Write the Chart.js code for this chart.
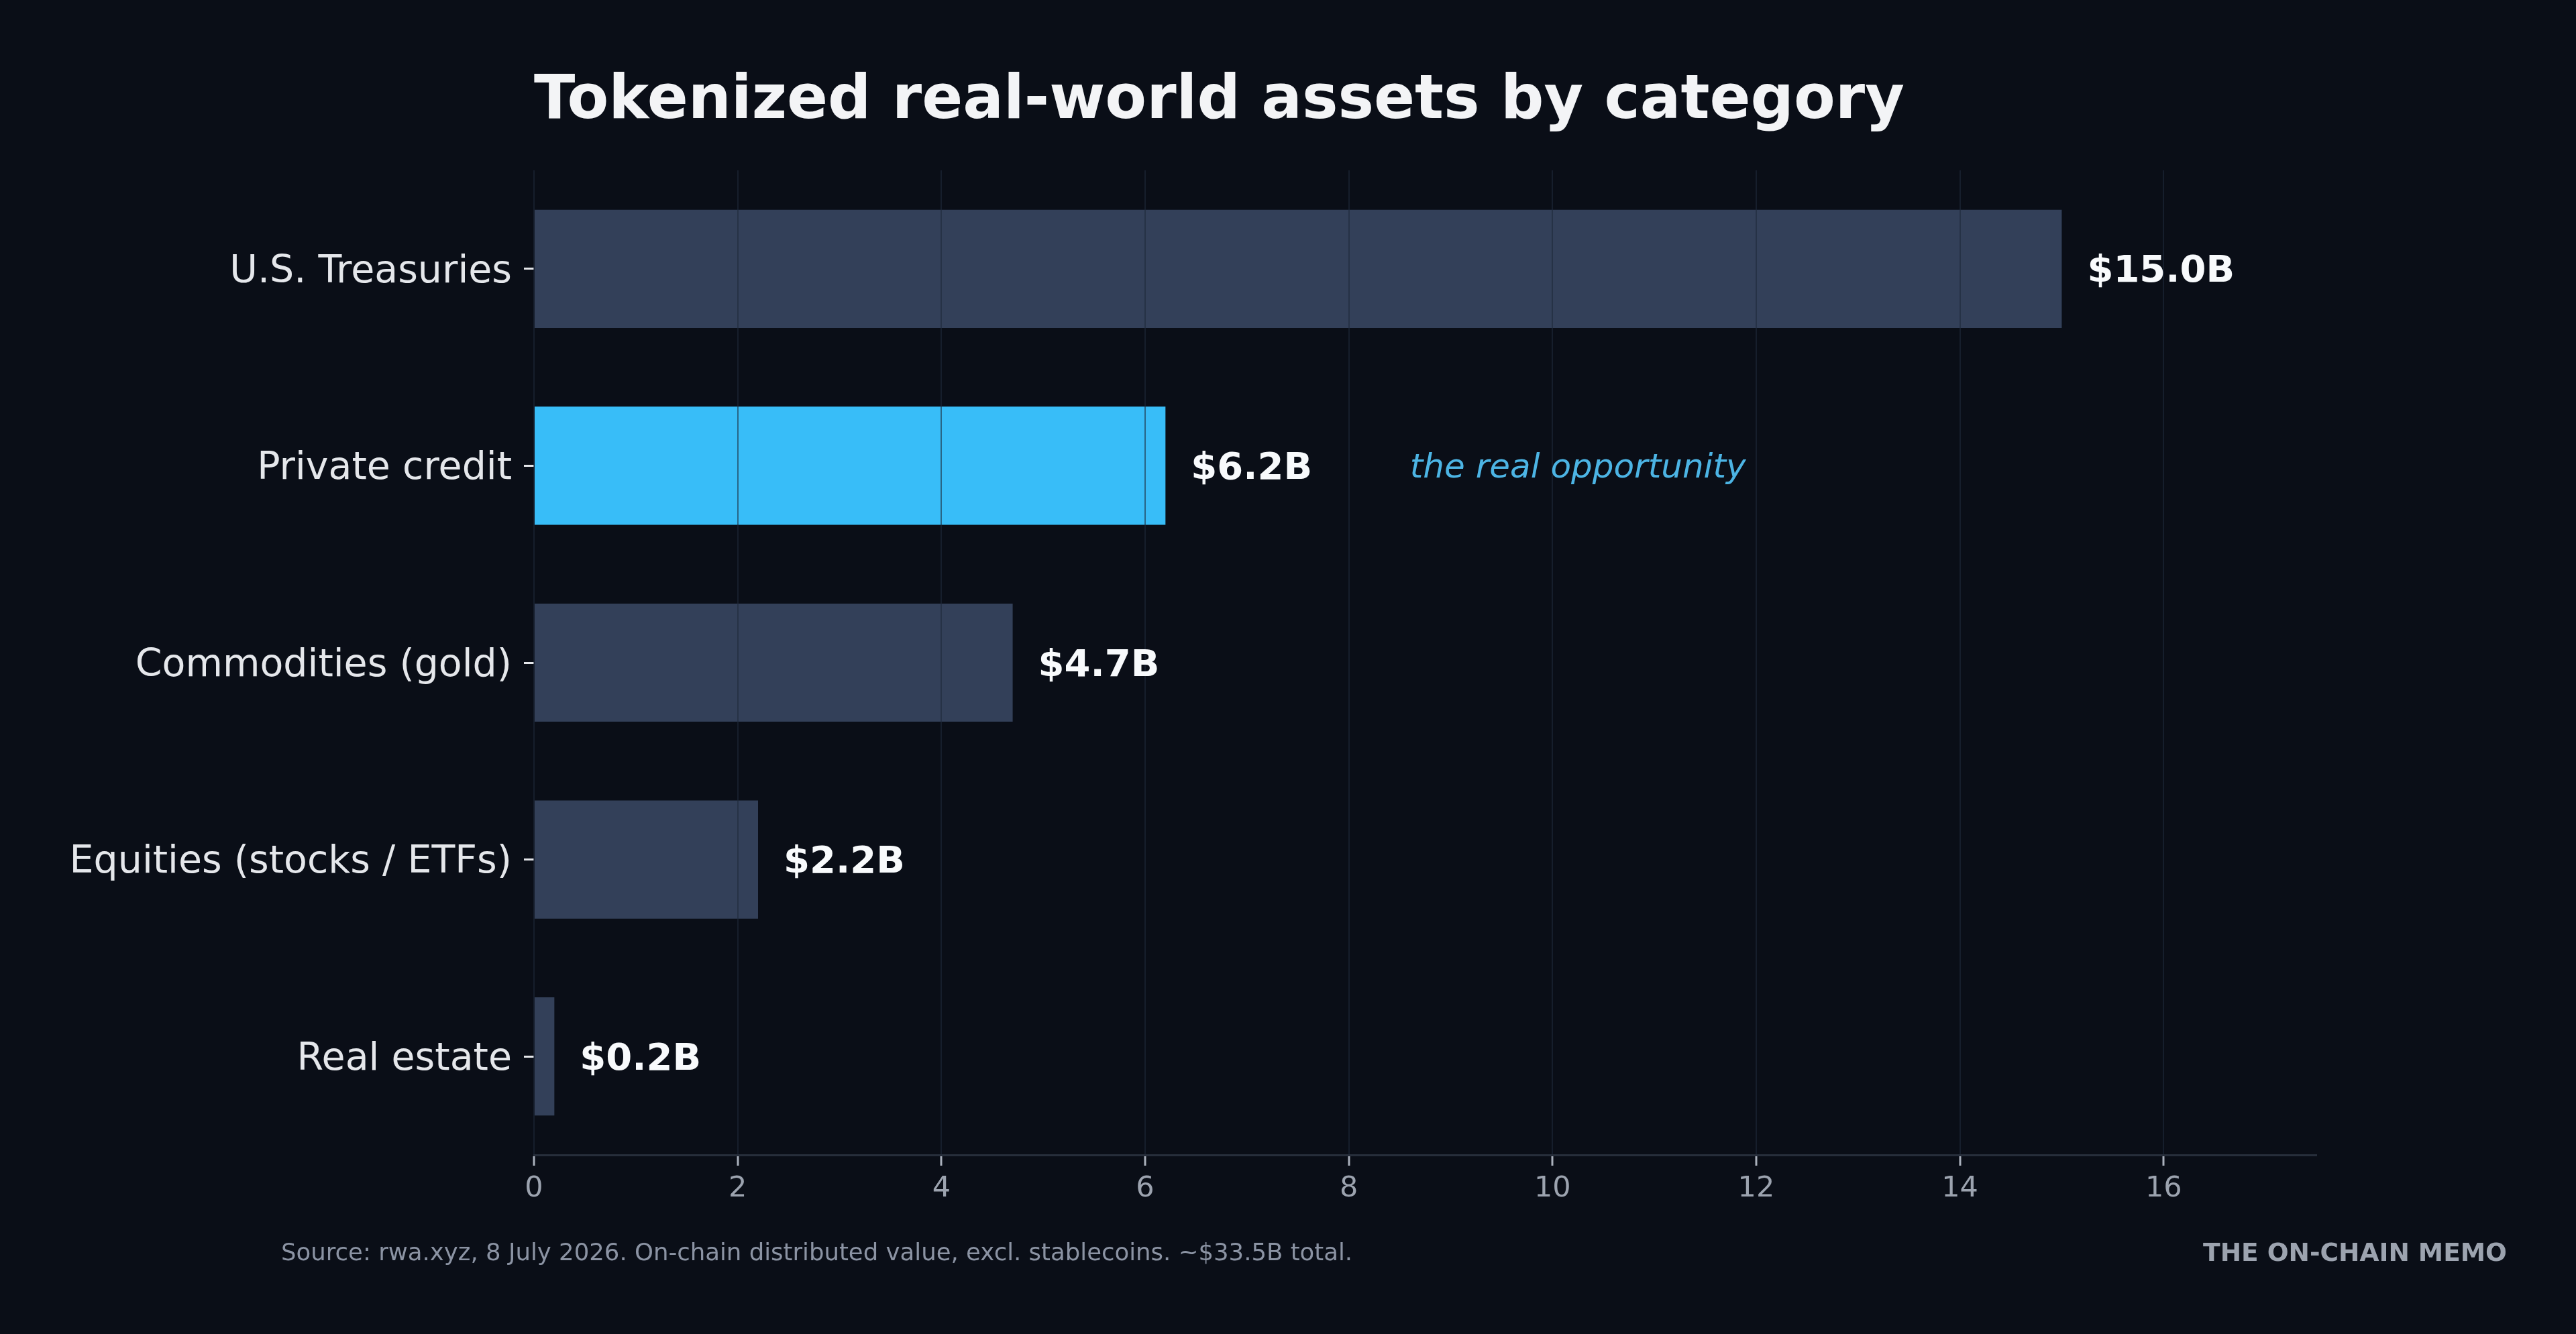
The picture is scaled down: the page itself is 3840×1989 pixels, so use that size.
<!DOCTYPE html>
<html>
<head>
<meta charset="utf-8">
<title>Tokenized real-world assets by category</title>
<script src="https://cdn.jsdelivr.net/npm/chart.js@4.4.1/dist/chart.umd.min.js"></script>
<style>
	html, body { margin: 0; padding: 0; background: #0a0e17; }
	canvas { display: block; }
</style>
</head>
<body>
<canvas id="chart" width="3840" height="1989"></canvas>
<script>
// Values in billions of USD
const categories = [
	"U.S. Treasuries",
	"Private credit",
	"Commodities (gold)",
	"Equities (stocks / ETFs)",
	"Real estate",
];
const values = [15.0, 6.2, 4.7, 2.2, 0.2];
const xTicks = [0, 2, 4, 6, 8, 10, 12, 14, 16];
const xMax = 17.5;

// the highlighted category and its note
const highlightIndex = 1;
const noteText = "the real opportunity";
const noteX = 8.6;

const titleText = "Tokenized real-world assets by category";
const sourceText = "Source: rwa.xyz, 8 July 2026. On-chain distributed value, excl. stablecoins. ~$33.5B total.";
const brandText = "THE ON-CHAIN MEMO";

const FONT = '"DejaVu Sans", "Noto Sans", sans-serif';

const barColors = values.map((v, i) => (i === highlightIndex ? "#38bdf8" : "#334059"));

// Draws value labels, the note, title and footer
const textPlugin = {
	id: "texts",
	afterDraw: (chart) => {
		const ctx = chart.ctx;
		const area = chart.chartArea;
		const meta = chart.getDatasetMeta(0);
		const xs = chart.scales.x;

		ctx.save();
		ctx.textBaseline = "middle";
		ctx.textAlign = "left";

		ctx.font = "bold 56px " + FONT;
		ctx.fillStyle = "#f8fafc";
		meta.data.forEach((bar, i) => {
			ctx.fillText("$" + values[i].toFixed(1) + "B", bar.x + 38, bar.y + 5);
		});

		ctx.font = "italic 50px " + FONT;
		ctx.fillStyle = "#4cb4e4";
		ctx.fillText(noteText, xs.getPixelForValue(noteX), meta.data[highlightIndex].y + 5);

		ctx.textBaseline = "alphabetic";
		ctx.font = "bold 90px " + FONT;
		ctx.fillStyle = "#f3f4f6";
		ctx.fillText(titleText, area.left, 176);

		ctx.textBaseline = "middle";
		ctx.font = "35.5px " + FONT;
		ctx.fillStyle = "#8b93a3";
		ctx.fillText(sourceText, 419, 1870);

		ctx.textAlign = "right";
		ctx.font = "bold 37.5px " + FONT;
		ctx.fillStyle = "#9ca3af";
		ctx.fillText(brandText, 3737, 1870);
		ctx.restore();
	},
};

const chart = new Chart(document.getElementById("chart"), {
	type: "bar",
	data: {
		labels: categories,
		datasets: [
			{
				data: values,
				backgroundColor: barColors,
				borderWidth: 0,
				barPercentage: 0.6,
				categoryPercentage: 1.0,
			},
		],
	},
	options: {
		indexAxis: "y",
		responsive: false,
		animation: false,
		devicePixelRatio: 1,
		layout: {
			padding: { top: 254, right: 387, bottom: 0, left: 0 },
		},
		plugins: {
			legend: { display: false },
			tooltip: { enabled: false },
		},
		scales: {
			x: {
				min: 0,
				max: xMax,
				afterBuildTicks: (scale) => {
					scale.ticks = xTicks.map((v) => ({ value: v }));
				},
				afterFit: (scale) => {
					scale.height = 267;
				},
				grid: {
					z: 1,
					color: "rgba(30, 41, 59, 0.6)",
					lineWidth: 2,
					tickColor: "#aab1bd",
					tickLength: 16,
					tickWidth: 3,
				},
				border: { display: true, z: 1, color: "#272e3b", width: 3 },
				ticks: {
					color: "#9ca3af",
					font: { family: FONT, size: 43 },
					padding: 9,
				},
			},
			y: {
				afterFit: (scale) => {
					scale.width = 796;
				},
				grid: {
					drawOnChartArea: false,
					offset: false,
					tickColor: "#e5e7eb",
					tickLength: 15,
					tickWidth: 3,
				},
				border: { display: false },
				ticks: {
					color: "#e5e7eb",
					font: { family: FONT, size: 57 },
					padding: 18,
					labelOffset: 5,
				},
			},
		},
	},
	plugins: [textPlugin],
});
</script>
</body>
</html>
